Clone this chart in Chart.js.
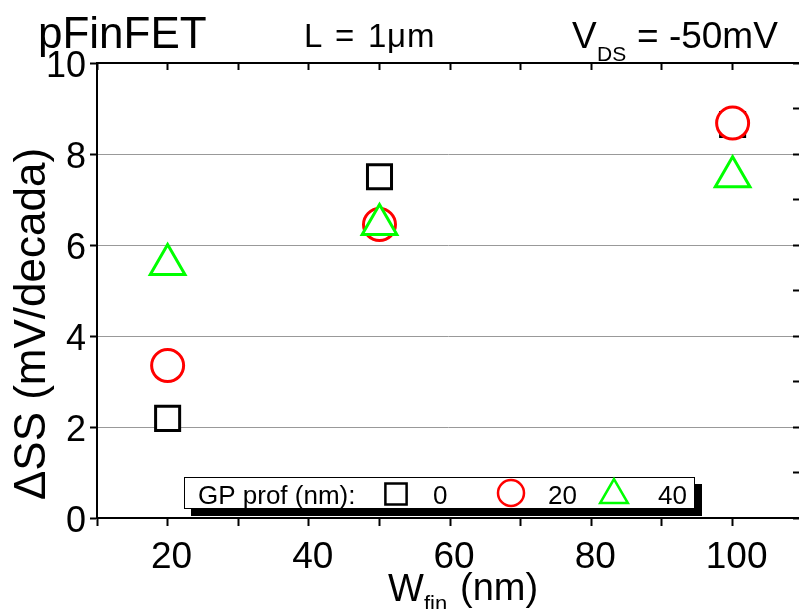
<!DOCTYPE html>
<html><head><meta charset="utf-8">
<script src="https://cdn.jsdelivr.net/npm/chart.js@4.4.1/dist/chart.umd.min.js"></script>
<style>html,body{margin:0;padding:0;background:#fff}#wrap{width:799px;height:609px}</style>
</head><body><div id="wrap"><canvas id="c" width="799" height="609"></canvas></div>
<script>
// ---- data ----
const finWidths = [20, 50, 100];
const gp0 = [2.19, 7.50, 8.65];
const gp20 = [3.35, 6.45, 8.68];
const gp40 = [5.57, 6.45, 7.50];
const seriesLabels = ['0', '20', '40'];
const xTickValues = [10, 20, 30, 40, 50, 60, 70, 80, 90, 100];
const xLabelValues = [20, 40, 60, 80, 100];
const yLabelValues = [0, 2, 4, 6, 8, 10];

const FONT = "'Liberation Sans', Arial, sans-serif";
Chart.defaults.font.family = FONT;
Chart.defaults.color = '#000';

const pts = (ys) => finWidths.map((x, i) => ({x: x, y: ys[i]}));

const datasets = [
  {label: seriesLabels[0], data: pts(gp0), pointStyle: 'rect', borderColor: '#000000', backgroundColor: '#ffffff', pointRadius: 17, pointBorderWidth: 3, order: 3},
  {label: seriesLabels[1], data: pts(gp20), pointStyle: 'circle', borderColor: '#ff0000', backgroundColor: '#ffffff', pointRadius: 16, pointBorderWidth: 3, order: 2},
  {label: seriesLabels[2], data: pts(gp40), pointStyle: 'triangle', borderColor: '#00ff00', backgroundColor: '#ffffff', pointRadius: 20, pointBorderWidth: 3, order: 1}
];

const setXTicks = (s) => { s.ticks = xTickValues.map(v => ({value: v})); };
const noPad = (s) => { s.paddingLeft = 0; s.paddingRight = 0; s.paddingTop = 0; s.paddingBottom = 0; };

const annot = {
  id: 'annot',
  afterDraw(chart) {
    const ctx = chart.ctx;
    ctx.save();
    ctx.fillStyle = '#000';
    ctx.textAlign = 'left';
    ctx.textBaseline = 'alphabetic';
    ctx.font = '44px ' + FONT; ctx.fillText('pFinFET', 38, 48);
    ctx.font = '33px ' + FONT;
    ctx.fillText('L', 304, 47);
    ctx.fillText('=', 335, 47);
    ctx.fillText('1', 368, 47);
    ctx.fillText('\u03bc', 387, 47);
    ctx.fillText('m', 407, 47);
    ctx.font = '37px ' + FONT; ctx.fillText('V', 572, 48);
    ctx.font = '21px ' + FONT; ctx.fillText('DS', 597, 61);
    ctx.font = '37px ' + FONT; ctx.fillText('= -50mV', 637, 48);
    // x title
    ctx.font = '38px ' + FONT; ctx.fillText('W', 388, 601);
    ctx.font = '22px ' + FONT; ctx.fillText('fin', 424, 611);
    ctx.font = '38px ' + FONT; ctx.fillText('(nm)', 460, 600);
    // y title
    ctx.save();
    ctx.translate(45, 324);
    ctx.rotate(-Math.PI / 2);
    ctx.textAlign = 'center';
    ctx.font = '44px ' + FONT;
    ctx.fillText('\u0394SS (mV/decada)', 0, 0);
    ctx.restore();

    // legend box with shadow
    ctx.fillStyle = '#000';
    ctx.fillRect(191, 484, 511, 32);
    ctx.fillStyle = '#fff';
    ctx.fillRect(184, 477, 511, 32);
    ctx.strokeStyle = '#000';
    ctx.lineWidth = 1;
    ctx.strokeRect(184.5, 477.5, 510, 31);
    ctx.fillStyle = '#000';
    ctx.font = '26px ' + FONT;
    ctx.fillText('GP prof (nm):', 198, 504);
    const items = [
      {ds: 0, x: 396, y: 494, r: 15, tx: 433},
      {ds: 1, x: 511, y: 493, r: 13, tx: 548},
      {ds: 2, x: 614, y: 495, r: 16, tx: 658}
    ];
    items.forEach(it => {
      const d = chart.data.datasets[it.ds];
      ctx.save();
      ctx.strokeStyle = d.borderColor;
      ctx.fillStyle = 'rgba(0,0,0,0)';
      ctx.lineWidth = 2.5;
      Chart.helpers.drawPoint(ctx, {pointStyle: d.pointStyle, rotation: 0, radius: it.r, borderWidth: 2.5}, it.x, it.y);
      ctx.restore();
      ctx.fillStyle = '#000';
      ctx.font = '26px ' + FONT;
      ctx.fillText(d.label, it.tx, 504);
    });
    ctx.restore();
  }
};

new Chart(document.getElementById('c'), {
  type: 'scatter',
  data: {datasets: datasets},
  plugins: [annot],
  options: {
    responsive: false,
    animation: false,
    devicePixelRatio: 1,
    layout: {padding: 0, autoPadding: false},
    plugins: {legend: {display: false}, tooltip: {enabled: false}},
    scales: {
      x: {
        type: 'linear', position: 'bottom', min: 10, max: 109.4,
        afterBuildTicks: setXTicks,
        afterFit: (s) => { s.height = 91; noPad(s); },
        grid: {drawOnChartArea: false, tickLength: 8, tickColor: '#000', tickWidth: 2},
        border: {color: '#000', width: 2},
        ticks: {font: {size: 37}, padding: 10, labelOffset: 4, maxRotation: 0, autoSkip: false,
          callback: (v) => xLabelValues.includes(v) ? String(v) : ''}
      },
      xTop: {
        type: 'linear', position: 'top', min: 10, max: 109.4,
        afterBuildTicks: setXTicks,
        afterFit: (s) => { s.height = 63; noPad(s); },
        grid: {drawOnChartArea: false, tickLength: -7, tickColor: '#000', tickWidth: 2},
        border: {color: '#000', width: 2},
        ticks: {display: false}
      },
      y: {
        type: 'linear', position: 'left', min: 0, max: 10,
        afterFit: (s) => { s.width = 97; noPad(s); },
        grid: {
          color: (c) => (c.tick.value === 0 || c.tick.value === 10) ? 'rgba(0,0,0,0)' : (c.tick.value % 2 ? '#c4c4c4' : '#999999'),
          lineWidth: 1, tickLength: 7, tickColor: '#000', tickWidth: 2
        },
        border: {color: '#000', width: 2, dash: (c) => (c.tick && c.tick.value % 2) ? [3, 3] : []},
        ticks: {stepSize: 1, font: {size: 36}, padding: 4, labelOffset: 4.5,
          callback: (v) => yLabelValues.includes(v) ? String(v) : ''}
      },
      yRight: {
        type: 'linear', position: 'right', min: 0, max: 10,
        afterFit: (s) => { s.width = 0; noPad(s); },
        grid: {drawOnChartArea: false, tickLength: -6, tickColor: '#000', tickWidth: 2},
        border: {display: false},
        ticks: {stepSize: 1, display: false}
      }
    }
  }
});
</script>
</body></html>
